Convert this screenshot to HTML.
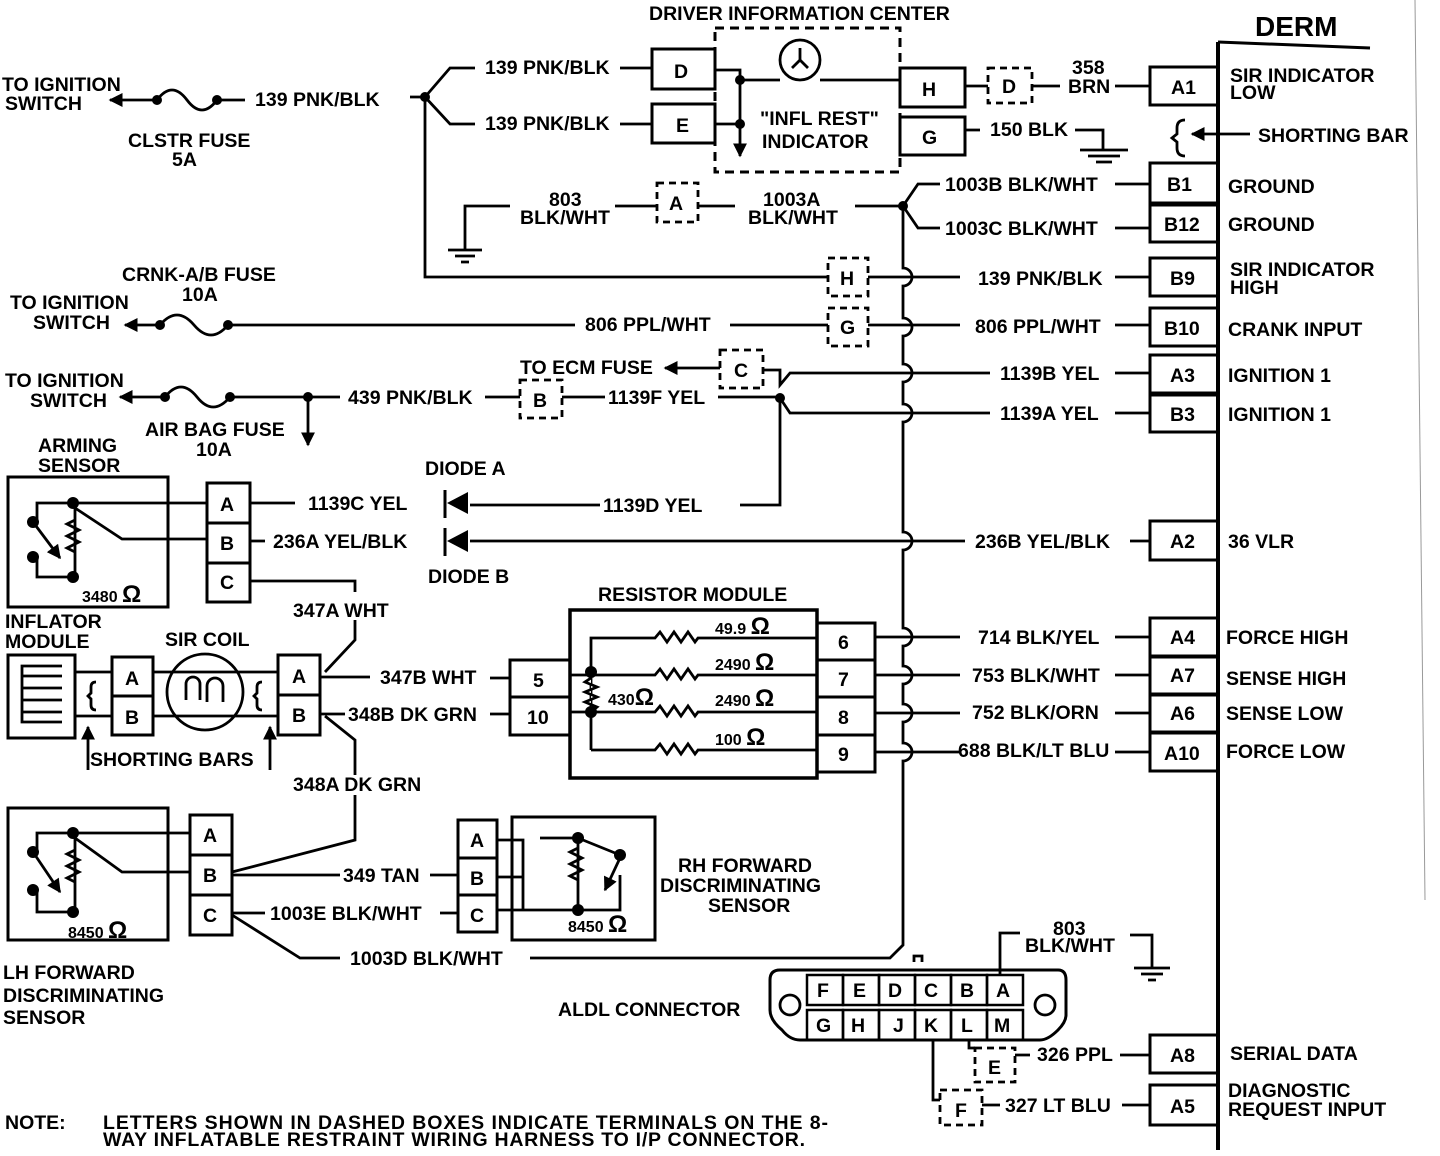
<!DOCTYPE html>
<html><head><meta charset="utf-8"><style>
body{margin:0;background:#fff}
svg{display:block}
text{font-family:"Liberation Sans",sans-serif;font-weight:bold;font-size:19.5px;fill:#000}
.t{font-size:16px}
.o{font-size:24px}
</style></head><body>
<svg width="1440" height="1156" viewBox="0 0 1440 1156" xmlns="http://www.w3.org/2000/svg">
<defs>
<marker id="ar" viewBox="0 0 10 10" refX="9" refY="5" markerWidth="5" markerHeight="5" orient="auto"><path d="M0,0L10,5L0,10z"/></marker>
</defs>
<g fill="none" stroke="#000" stroke-width="2.8">
<line x1="1218" y1="42" x2="1218" y2="1150" stroke-width="4"/>
<line x1="1218" y1="42" x2="1370" y2="48" stroke-width="3"/>
<line x1="1415" y1="0" x2="1425" y2="900" stroke-width="1" stroke="#999"/>
<g stroke-width="3">
<rect x="1150" y="67" width="68" height="38"/>
<rect x="1150" y="163" width="68" height="40"/><rect x="1150" y="205" width="68" height="37"/>
<rect x="1150" y="258" width="68" height="38"/><rect x="1150" y="308" width="68" height="38"/>
<rect x="1150" y="355" width="68" height="38"/><rect x="1150" y="395" width="68" height="37"/>
<rect x="1150" y="521" width="68" height="39"/>
<rect x="1150" y="618" width="68" height="38"/><rect x="1150" y="657" width="68" height="37"/>
<rect x="1150" y="695" width="68" height="37"/><rect x="1150" y="733" width="68" height="38"/>
<rect x="1150" y="1035" width="68" height="38"/><rect x="1150" y="1085" width="68" height="40"/>
</g>
<path d="M1185,120 q-8,0 -8,8 v6 l-5,4 l5,4 v6 q0,8 8,8"/>
<line x1="1250" y1="134" x2="1192" y2="134" marker-end="url(#ar)"/>
<rect x="715" y="28" width="185" height="144" stroke-dasharray="9,6" stroke-width="3"/>
<circle cx="800" cy="60" r="20"/><path d="M800,48v12l-8,8M800,60l8,8"/>
<rect x="652" y="49" width="63" height="40" stroke-width="3"/><rect x="652" y="104" width="63" height="39" stroke-width="3"/>
<rect x="900" y="68" width="65" height="39" stroke-width="3"/><rect x="900" y="117" width="65" height="38" stroke-width="3"/>
<path d="M715,70H740V80H780M820,80H900"/>
<line x1="740" y1="80" x2="740" y2="156" marker-end="url(#ar)"/>
<path d="M715,124H740"/>
<rect x="988" y="68" width="44" height="35" stroke-dasharray="7,5"/>
<path d="M965,86H988M1032,86H1060M1115,86H1150"/>
<path d="M965,130H980M1075,130H1103V150M1080,150H1128M1088,156H1120M1096,162H1112"/>
<line x1="155" y1="100" x2="110" y2="100" marker-end="url(#ar)"/>
<path d="M157,100 q15,-20 30,0 t30,0M217,100H245M410,97H425"/>
<path d="M425,97L450,68H475M620,68H652M425,97L450,124H475M620,124H652"/>
<path d="M425,97V277H828M868,277H960M1115,277H1150"/>
<rect x="828" y="258" width="40" height="38" stroke-dasharray="7,5"/>
<path d="M510,206H465V250M448,250H482M455,256H475M461,262H469M615,206H657M698,206H735M855,206H903"/>
<rect x="657" y="183" width="41" height="39" stroke-dasharray="7,5"/>
<path d="M903,206L918,184H940M1115,184H1150M903,206L918,228H940M1115,228H1150"/>
<path d="M903,206V268a9,9 0 0 1 0,18V318a9,9 0 0 1 0,18V364a9,9 0 0 1 0,18V404a9,9 0 0 1 0,18V532a9,9 0 0 1 0,18V628a9,9 0 0 1 0,18V666a9,9 0 0 1 0,18V704a9,9 0 0 1 0,18V743a9,9 0 0 1 0,18V945L890,958H530"/>
<line x1="160" y1="325" x2="125" y2="325" marker-end="url(#ar)"/>
<path d="M160,325 q17,-20 34,0 t34,0M228,325H575M730,325H828M868,325H960M1115,325H1150"/>
<rect x="828" y="308" width="40" height="38" stroke-dasharray="7,5"/>
<line x1="165" y1="397" x2="120" y2="397" marker-end="url(#ar)"/>
<path d="M165,397 q16,-20 32,0 t33,0M230,397H340M485,397H520M562,397H605M718,397H780"/>
<line x1="308" y1="397" x2="308" y2="445" marker-end="url(#ar)"/>
<rect x="520" y="380" width="42" height="38" stroke-dasharray="7,5"/>
<line x1="720" y1="368" x2="665" y2="368" marker-end="url(#ar)"/>
<rect x="720" y="350" width="43" height="38" stroke-dasharray="7,5"/>
<path d="M763,370H780V385L790,373H990M1115,373H1150M780,398L790,413H990M1115,413H1150M780,398V505H740M600,505H470"/>
<rect x="8" y="477" width="160" height="130" stroke-width="3"/>
<rect x="207" y="483" width="43" height="40" stroke-width="3"/><rect x="207" y="523" width="43" height="40" stroke-width="3"/><rect x="207" y="563" width="43" height="39" stroke-width="3"/>
<path d="M37,522V503H207M37,557V577H75V503M75,508L122,539H207M75,520l-8,4l12,6l-12,6l12,6l-12,6l8,4"/>
<line x1="33" y1="522" x2="60" y2="558" marker-end="url(#ar)"/>
<path d="M250,503H295M250,541H265M470,541H965M1130,541H1150M250,581H355V592"/>
<line x1="445" y1="490" x2="445" y2="518" stroke-width="3"/><line x1="445" y1="528" x2="445" y2="556" stroke-width="3"/>
<rect x="8" y="655" width="67" height="83" stroke-width="3"/>
<path d="M62,666H22V676H62M22,676V688H62M22,688V700H62M22,700V712H62M22,712V722H62"/>
<path d="M75,672H112M75,716H112M153,672H278M153,716H278"/>
<path d="M96,682q-5,0 -5,5v6l-3,3l3,3v6q0,5 5,5M262,682q-5,0 -5,5v6l-3,3l3,3v6q0,5 5,5"/>
<rect x="112" y="657" width="41" height="39" stroke-width="3"/><rect x="112" y="696" width="41" height="39" stroke-width="3"/>
<circle cx="205" cy="692" r="38"/>
<path d="M186,700V684a7,7 0 0 1 14,0V700M207,702V686a8,8 0 0 1 16,0V702"/>
<line x1="88" y1="770" x2="88" y2="727" marker-end="url(#ar)"/><line x1="270" y1="770" x2="270" y2="727" marker-end="url(#ar)"/>
<rect x="278" y="655" width="42" height="40" stroke-width="3"/><rect x="278" y="695" width="42" height="40" stroke-width="3"/>
<path d="M355,620V640L325,672M320,677H370M320,714H345M325,716L355,740V775M355,795V840L232,872"/>
<path d="M490,678H510M490,714H510"/>
<rect x="570" y="610" width="247" height="168" stroke-width="3.5"/>
<rect x="510" y="660" width="60" height="37" stroke-width="3"/><rect x="510" y="697" width="60" height="38" stroke-width="3"/>
<rect x="817" y="623" width="58" height="37" stroke-width="3"/><rect x="817" y="660" width="58" height="37" stroke-width="3"/><rect x="817" y="697" width="58" height="38" stroke-width="3"/><rect x="817" y="735" width="58" height="37" stroke-width="3"/>
<path d="M591,750V638H655l5,-6l7,10l7,-10l7,10l7,-10l7,10l3,-4H817"/>
<path d="M570,675H655l5,-6l7,10l7,-10l7,10l7,-10l7,10l3,-4H817"/>
<path d="M570,712H655l5,-6l7,10l7,-10l7,10l7,-10l7,10l3,-4H817"/>
<path d="M591,750H655l5,-6l7,10l7,-10l7,10l7,-10l7,10l3,-4H817"/>
<path d="M591,678l-6,4l12,5l-12,5l12,5l-12,5l12,5l-6,5" fill="#fff"/>
<path d="M875,637H960M1115,637H1150M875,675H960M1115,675H1150M875,713H960M1115,713H1150M875,752H960M1115,752H1150"/>
<rect x="8" y="808" width="160" height="132" stroke-width="3"/>
<rect x="190" y="815" width="42" height="40" stroke-width="3"/><rect x="190" y="855" width="42" height="40" stroke-width="3"/><rect x="190" y="895" width="42" height="40" stroke-width="3"/>
<path d="M37,850V833H190M37,890V912H75V833M75,838L122,872H190M75,850l-8,4l12,6l-12,6l12,6l-12,6l8,4M232,875H340M430,875H458M232,913H265M440,913H458M232,915L300,958H340"/>
<line x1="33" y1="852" x2="60" y2="892" marker-end="url(#ar)"/>
<rect x="458" y="820" width="39" height="38" stroke-width="3"/><rect x="458" y="858" width="39" height="37" stroke-width="3"/><rect x="458" y="895" width="39" height="37" stroke-width="3"/>
<rect x="512" y="817" width="143" height="123" stroke-width="3"/>
<path d="M497,840H523V910H497M523,877H497M523,910H620V875M540,838H578V910M578,848l-8,4l12,6l-12,6l12,6l-12,6l8,4M578,838L620,855"/>
<line x1="620" y1="858" x2="605" y2="890" marker-end="url(#ar)"/>
<path d="M780,970H1058Q1066,970 1066,980V1015Q1066,1022 1058,1030Q1048,1040 1040,1040H800Q790,1040 782,1030Q770,1020 770,1010V980Q770,970 780,970Z" stroke-width="3"/>
<circle cx="790" cy="1005" r="10"/><circle cx="1045" cy="1005" r="10"/>
<g stroke-width="2.5">
<rect x="807" y="975" width="36" height="30"/><rect x="843" y="975" width="36" height="30"/><rect x="879" y="975" width="36" height="30"/><rect x="915" y="975" width="36" height="30"/><rect x="951" y="975" width="36" height="30"/><rect x="987" y="975" width="36" height="30"/>
<rect x="807" y="1010" width="36" height="30"/><rect x="843" y="1010" width="36" height="30"/><rect x="879" y="1010" width="36" height="30"/><rect x="915" y="1010" width="36" height="30"/><rect x="951" y="1010" width="36" height="30"/><rect x="987" y="1010" width="36" height="30"/>
</g>
<path d="M914,962v-6h8v6"/>
<path d="M1000,975V933H1020M1130,935H1152V968M1134,968H1170M1141,974H1163M1148,980H1156"/>
<path d="M969,1040V1048H975M1015,1055H1030M1120,1055H1150M933,1040V1100H940M982,1105H1000M1122,1105H1150"/>
<rect x="975" y="1048" width="40" height="34" stroke-dasharray="7,5"/>
<rect x="940" y="1090" width="42" height="35" stroke-dasharray="7,5"/>
</g>
<g fill="#000">
<circle cx="157" cy="100" r="5"/><circle cx="217" cy="100" r="5"/><circle cx="425" cy="97" r="5"/>
<circle cx="740" cy="80" r="5"/><circle cx="740" cy="124" r="5"/><circle cx="903" cy="206" r="5"/>
<circle cx="160" cy="325" r="5"/><circle cx="228" cy="325" r="5"/><circle cx="165" cy="397" r="5"/><circle cx="230" cy="397" r="5"/>
<circle cx="308" cy="397" r="5"/><circle cx="780" cy="398" r="5"/>
<circle cx="73" cy="503" r="6"/><circle cx="73" cy="577" r="6"/><circle cx="33" cy="522" r="6"/><circle cx="33" cy="557" r="6"/>
<circle cx="73" cy="833" r="6"/><circle cx="73" cy="912" r="6"/><circle cx="33" cy="852" r="6"/><circle cx="33" cy="890" r="6"/>
<circle cx="578" cy="838" r="6"/><circle cx="578" cy="910" r="6"/><circle cx="620" cy="855" r="6"/>
<circle cx="591" cy="672" r="6"/><circle cx="591" cy="712" r="6"/>
<path d="M447,503L468,492V514Z"/><path d="M447,541L468,530V552Z"/>
</g>
<text x="649" y="20">DRIVER INFORMATION CENTER</text>
<text x="1255" y="36" style="font-size:28px">DERM</text>
<text x="2" y="91">TO IGNITION</text><text x="5" y="110">SWITCH</text>
<text x="255" y="106">139 PNK/BLK</text>
<text x="128" y="147">CLSTR FUSE</text><text x="172" y="166">5A</text>
<text x="485" y="74">139 PNK/BLK</text><text x="485" y="130">139 PNK/BLK</text>
<text x="674" y="78">D</text><text x="676" y="132">E</text>
<text x="922" y="96">H</text><text x="922" y="144">G</text>
<text x="1002" y="93">D</text>
<text x="1072" y="74">358</text><text x="1068" y="93">BRN</text>
<text x="990" y="136">150 BLK</text>
<text x="760" y="125">"INFL REST"</text><text x="762" y="148">INDICATOR</text>
<text x="1171" y="94">A1</text>
<text x="1230" y="82">SIR INDICATOR</text><text x="1230" y="99">LOW</text>
<text x="1258" y="142">SHORTING BAR</text>
<text x="549" y="206">803</text><text x="520" y="224">BLK/WHT</text>
<text x="669" y="210">A</text>
<text x="763" y="206">1003A</text><text x="748" y="224">BLK/WHT</text>
<text x="945" y="191">1003B BLK/WHT</text><text x="945" y="235">1003C BLK/WHT</text>
<text x="1167" y="191">B1</text><text x="1164" y="231">B12</text>
<text x="1228" y="193">GROUND</text><text x="1228" y="231">GROUND</text>
<text x="122" y="281">CRNK-A/B FUSE</text><text x="182" y="301">10A</text>
<text x="840" y="285">H</text>
<text x="978" y="285">139 PNK/BLK</text>
<text x="1170" y="285">B9</text>
<text x="1230" y="276">SIR INDICATOR</text><text x="1230" y="294">HIGH</text>
<text x="10" y="309">TO IGNITION</text><text x="33" y="329">SWITCH</text>
<text x="585" y="331">806 PPL/WHT</text>
<text x="840" y="334">G</text>
<text x="975" y="333">806 PPL/WHT</text>
<text x="1164" y="335">B10</text><text x="1228" y="336">CRANK INPUT</text>
<text x="520" y="374">TO ECM FUSE</text><text x="734" y="377">C</text>
<text x="5" y="387">TO IGNITION</text><text x="30" y="407">SWITCH</text>
<text x="348" y="404">439 PNK/BLK</text>
<text x="533" y="407">B</text>
<text x="608" y="404">1139F YEL</text>
<text x="1000" y="380">1139B YEL</text><text x="1000" y="420">1139A YEL</text>
<text x="1170" y="382">A3</text><text x="1170" y="421">B3</text>
<text x="1228" y="382">IGNITION 1</text><text x="1228" y="421">IGNITION 1</text>
<text x="145" y="436">AIR BAG FUSE</text><text x="196" y="456">10A</text>
<text x="38" y="452">ARMING</text><text x="38" y="472">SENSOR</text>
<text x="425" y="475">DIODE A</text><text x="428" y="583">DIODE B</text>
<text x="220" y="511">A</text><text x="220" y="550">B</text><text x="220" y="589">C</text>
<text x="308" y="510">1139C YEL</text><text x="603" y="512">1139D YEL</text>
<text x="273" y="548">236A YEL/BLK</text><text x="975" y="548">236B YEL/BLK</text>
<text x="1170" y="548">A2</text><text x="1228" y="548">36 VLR</text>
<text x="82" y="602" class="t">3480 <tspan class="o">Ω</tspan></text>
<text x="598" y="601">RESISTOR MODULE</text>
<text x="293" y="617">347A WHT</text>
<text x="5" y="628">INFLATOR</text><text x="5" y="648">MODULE</text>
<text x="165" y="646">SIR COIL</text>
<text x="125" y="685">A</text><text x="125" y="724">B</text><text x="292" y="683">A</text><text x="292" y="722">B</text>
<text x="380" y="684">347B WHT</text><text x="348" y="721">348B DK GRN</text>
<text x="533" y="687">5</text><text x="527" y="724">10</text>
<text x="715" y="634" class="t">49.9 <tspan class="o">Ω</tspan></text><text x="715" y="670" class="t">2490 <tspan class="o">Ω</tspan></text>
<text x="715" y="706" class="t">2490 <tspan class="o">Ω</tspan></text><text x="715" y="745" class="t">100 <tspan class="o">Ω</tspan></text>
<text x="608" y="705" class="t">430<tspan class="o">Ω</tspan></text>
<text x="838" y="649">6</text><text x="838" y="686">7</text><text x="838" y="724">8</text><text x="838" y="761">9</text>
<text x="978" y="644">714 BLK/YEL</text><text x="972" y="682">753 BLK/WHT</text>
<text x="972" y="719">752 BLK/ORN</text><text x="958" y="757">688 BLK/LT BLU</text>
<text x="1170" y="644">A4</text><text x="1170" y="682">A7</text><text x="1170" y="720">A6</text><text x="1164" y="760">A10</text>
<text x="1226" y="644">FORCE HIGH</text><text x="1226" y="685">SENSE HIGH</text>
<text x="1226" y="720">SENSE LOW</text><text x="1226" y="758">FORCE LOW</text>
<text x="90" y="766">SHORTING BARS</text>
<text x="293" y="791">348A DK GRN</text>
<text x="203" y="842">A</text><text x="203" y="882">B</text><text x="203" y="922">C</text>
<text x="470" y="847">A</text><text x="470" y="885">B</text><text x="470" y="922">C</text>
<text x="343" y="882">349 TAN</text><text x="270" y="920">1003E BLK/WHT</text>
<text x="350" y="965">1003D BLK/WHT</text>
<text x="68" y="938" class="t">8450 <tspan class="o">Ω</tspan></text><text x="568" y="932" class="t">8450 <tspan class="o">Ω</tspan></text>
<text x="678" y="872">RH FORWARD</text><text x="660" y="892">DISCRIMINATING</text><text x="708" y="912">SENSOR</text>
<text x="3" y="979">LH FORWARD</text><text x="3" y="1002">DISCRIMINATING</text><text x="3" y="1024">SENSOR</text>
<text x="1053" y="935">803</text><text x="1025" y="952">BLK/WHT</text>
<text x="558" y="1016">ALDL  CONNECTOR</text>
<text x="817" y="997">F</text><text x="853" y="997">E</text><text x="888" y="997">D</text><text x="924" y="997">C</text><text x="960" y="997">B</text><text x="996" y="997">A</text>
<text x="816" y="1032">G</text><text x="851" y="1032">H</text><text x="893" y="1032">J</text><text x="924" y="1032">K</text><text x="961" y="1032">L</text><text x="994" y="1032">M</text>
<text x="988" y="1074">E</text><text x="955" y="1117">F</text>
<text x="1037" y="1061">326 PPL</text><text x="1005" y="1112">327 LT BLU</text>
<text x="1170" y="1062">A8</text><text x="1170" y="1113">A5</text>
<text x="1230" y="1060">SERIAL DATA</text><text x="1228" y="1097">DIAGNOSTIC</text><text x="1228" y="1116">REQUEST INPUT</text>
<text x="5" y="1129">NOTE:</text>
<text x="103" y="1129" textLength="725">LETTERS SHOWN IN DASHED BOXES INDICATE TERMINALS ON THE 8-</text>
<text x="103" y="1146" textLength="702">WAY INFLATABLE RESTRAINT WIRING HARNESS TO I/P CONNECTOR.</text>
</svg>
</body></html>
